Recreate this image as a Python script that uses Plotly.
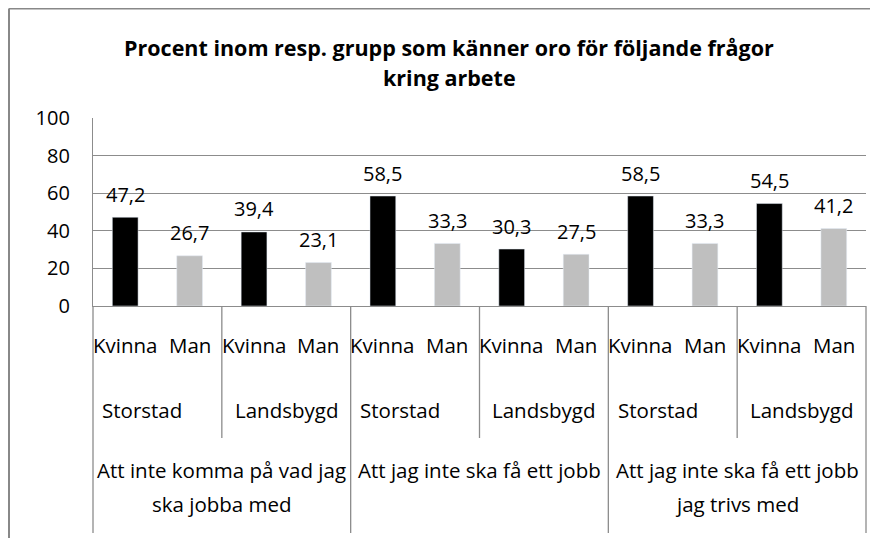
import plotly.graph_objects as go

# ---- data ----
title_lines = ["Procent inom resp. grupp som känner oro för följande frågor", "kring arbete"]
questions = [
    ["Att inte komma på vad jag", "ska jobba med"],
    ["Att jag inte ska få ett jobb"],
    ["Att jag inte ska få ett jobb", "jag trivs med"],
]
areas = ["Storstad", "Landsbygd"]
genders = ["Kvinna", "Man"]
kvinna = [47.2, 39.4, 58.5, 30.3, 58.5, 54.5]
man = [26.7, 23.1, 33.3, 27.5, 33.3, 41.2]
y_ticks = [0, 20, 40, 60, 80, 100]

FONT = "Open Sans"
GRID = "#8c8c8c"
PAGE_OFF = 8  # default body margin of the html page
W, H = 878 - PAGE_OFF, 538 - PAGE_OFF
ML, MT = 93 - PAGE_OFF, 118 - PAGE_OFF
MR = 12
PLOT_BOTTOM = 306 - PAGE_OFF
MB = H - PLOT_BOTTOM
PH = H - MT - MB
PW = W - ML - MR

n_groups = len(kvinna)
n_bars = n_groups * len(genders)
xk = [g * 2 for g in range(n_groups)]
xm = [g * 2 + 1 for g in range(n_groups)]

fig = go.Figure()
fig.add_trace(go.Bar(x=xk, y=kvinna, name="Kvinna", marker_color="#000000", width=0.4))
fig.add_trace(go.Bar(x=xm, y=man, name="Man", marker_color="#bfbfbf", width=0.4))

ann = []
shapes = []


def fmt(v):
    return f"{v:.1f}".replace(".", ",")


TXT = dict(family=FONT, size=20.5, color="#000")
NUM = dict(family=FONT, size=20, color="#000")

# value labels
for xs, vs in ((xk, kvinna), (xm, man)):
    for x, v in zip(xs, vs):
        ann.append(dict(x=x, y=v, xref="x", yref="y", text=fmt(v), showarrow=False,
                        yshift=23, yanchor="middle", font=NUM))

# gender row
for i in range(n_bars):
    ann.append(dict(x=i, y=0, xref="x", yref="paper", text=genders[i % 2], showarrow=False,
                    yshift=-39, yanchor="middle", font=TXT))

# area row
for g in range(n_groups):
    a = areas[g % 2]
    ann.append(dict(x=g * 2 + 0.5, y=0, xref="x", yref="paper", text=a, showarrow=False,
                    yshift=-104, xshift=(-15 if a == "Storstad" else 0), yanchor="middle", font=TXT))

# question row
per_q = n_bars // len(questions)
for q, lines in enumerate(questions):
    cx = q * per_q + (per_q - 1) / 2
    for li, line in enumerate(lines):
        ann.append(dict(x=cx, y=0, xref="x", yref="paper", text=line, showarrow=False,
                        yshift=-164 - 34 * li, yanchor="middle", font=TXT))

# title
title_cx = (449 - PAGE_OFF - ML) / PW
for li, line in enumerate(title_lines):
    ann.append(dict(x=title_cx, y=1, xref="paper", yref="paper", text="<b>" + line + "</b>",
                    showarrow=False, yshift=(MT - (47 - PAGE_OFF)) - 30 * li, yanchor="middle",
                    font=dict(family=FONT, size=21.5, color="#000")))

# separators below axis
for b in range(n_groups + 1):
    xp = (b * 2) / n_bars
    major = (b * 2) % per_q == 0
    depth = 227 if major else 132
    shapes.append(dict(type="line", xref="paper", yref="paper", x0=xp, x1=xp, y0=0, y1=-depth / PH,
                       line=dict(color=GRID, width=1.3)))

# outer frame (left + top)
fx = (1 - ML) / PW
fy = (MT + PH - 0.5) / PH
shapes.append(dict(type="line", xref="paper", yref="paper", x0=fx, x1=fx, y0=fy, y1=-(MB + 10) / PH,
                   line=dict(color="#888888", width=2)))
shapes.append(dict(type="line", xref="paper", yref="paper", x0=fx, x1=(W + 10 - ML) / PW, y0=fy, y1=fy,
                   line=dict(color="#888888", width=2)))

fig.update_layout(
    width=W, height=H,
    margin=dict(l=ML, r=MR, t=MT, b=MB),
    paper_bgcolor="white", plot_bgcolor="white",
    showlegend=False,
    annotations=ann, shapes=shapes,
    font=TXT,
)
fig.update_xaxes(range=[-0.5, n_bars - 0.5], showticklabels=False, showgrid=False, zeroline=False,
                 showline=True, linecolor=GRID, linewidth=1.3, ticks="")
fig.update_yaxes(range=[0, 100], tickvals=y_ticks, showgrid=True, gridcolor=GRID, gridwidth=1.3,
                 zeroline=False, showline=True, linecolor=GRID, linewidth=1.3, ticks="",
                 ticklabelstandoff=18, tickfont=NUM, automargin=False)

fig.write_html("out.html")
